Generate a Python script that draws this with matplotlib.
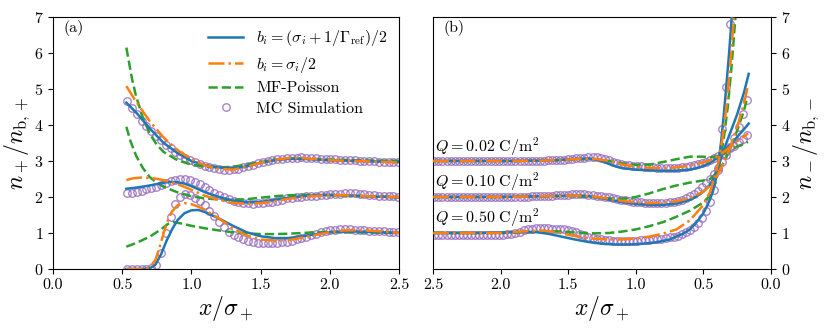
import numpy as np
import matplotlib
matplotlib.use("Agg")
import matplotlib.pyplot as plt

plt.rcParams['font.family'] = 'serif'
plt.rcParams['font.serif'] = ['cmr10', 'DejaVu Serif']
plt.rcParams['mathtext.fontset'] = 'cm'
plt.rcParams['axes.unicode_minus'] = False
plt.rcParams['axes.formatter.use_mathtext'] = True

# ---------------- Panel (a): n+/nb,+ ----------------
# Q = 0.02 (top, offset 3)
a_top_blue_x = [0.53, 0.6, 0.7, 0.8, 0.9, 1.0, 1.1, 1.2, 1.3, 1.4, 1.5, 1.6, 1.7, 1.8, 1.9, 2.0, 2.2, 2.4, 2.5]
a_top_blue_y = [4.62, 4.35, 3.9, 3.5, 3.22, 3.0, 2.88, 2.82, 2.8, 2.85, 2.95, 3.02, 3.06, 3.06, 3.04, 3.02, 3.0, 2.98, 2.97]
a_top_orange_x = [0.53, 0.6, 0.7, 0.8, 0.9, 1.0, 1.1, 1.2, 1.3, 1.4, 1.5, 1.6, 1.7, 1.8, 1.9, 2.0, 2.2, 2.5]
a_top_orange_y = [5.08, 4.65, 4.1, 3.65, 3.3, 3.05, 2.88, 2.78, 2.76, 2.84, 2.95, 3.03, 3.08, 3.08, 3.05, 3.02, 3.0, 2.96]
a_top_green_x = [0.53, 0.57, 0.6, 0.65, 0.7, 0.75, 0.8, 0.9, 1.0, 1.1, 1.2, 1.3, 1.4, 1.5, 1.6, 1.7, 1.8, 2.0, 2.2, 2.5]
a_top_green_y = [6.15, 5.3, 4.8, 4.2, 3.75, 3.45, 3.25, 3.02, 2.9, 2.84, 2.82, 2.84, 2.9, 2.97, 3.04, 3.07, 3.07, 3.04, 3.02, 3.0]

# Q = 0.10 (middle, offset 2)
a_mid_blue_x = [0.53, 0.6, 0.7, 0.8, 0.85, 0.9, 0.95, 1.0, 1.1, 1.2, 1.3, 1.4, 1.5, 1.6, 1.7, 1.8, 1.9, 2.0, 2.1, 2.2, 2.35, 2.5]
a_mid_blue_y = [2.23, 2.26, 2.32, 2.4, 2.42, 2.41, 2.37, 2.3, 2.13, 2.0, 1.9, 1.85, 1.86, 1.92, 1.98, 2.02, 2.05, 2.06, 2.05, 2.03, 2.01, 1.99]
a_mid_orange_x = [0.53, 0.58, 0.64, 0.7, 0.76, 0.82, 0.88, 0.95, 1.0, 1.1, 1.2, 1.3, 1.4, 1.5, 1.6, 1.7, 1.8, 1.9, 2.0, 2.1, 2.2, 2.35, 2.5]
a_mid_orange_y = [2.47, 2.52, 2.54, 2.53, 2.5, 2.45, 2.38, 2.28, 2.2, 2.03, 1.92, 1.84, 1.81, 1.83, 1.88, 1.95, 2.0, 2.03, 2.05, 2.05, 2.03, 2.01, 2.0]
a_mid_green_x = [0.53, 0.56, 0.6, 0.65, 0.7, 0.75, 0.8, 0.9, 1.0, 1.1, 1.2, 1.3, 1.4, 1.5, 1.6, 1.7, 1.8, 2.0, 2.2, 2.5]
a_mid_green_y = [3.95, 3.55, 3.15, 2.8, 2.55, 2.4, 2.28, 2.13, 2.02, 1.96, 1.93, 1.92, 1.94, 1.98, 2.02, 2.05, 2.06, 2.05, 2.03, 2.0]

# Q = 0.50 (bottom, offset 1)
a_bot_blue_x = [0.53, 0.6, 0.65, 0.7, 0.74, 0.78, 0.82, 0.86, 0.9, 0.95, 1.0, 1.05, 1.1, 1.2, 1.3, 1.4, 1.5, 1.6, 1.7, 1.8, 1.9, 2.0, 2.1, 2.2, 2.35, 2.5]
a_bot_blue_y = [0.0, 0.0, 0.0, 0.02, 0.12, 0.4, 0.78, 1.1, 1.36, 1.55, 1.63, 1.64, 1.58, 1.4, 1.2, 1.02, 0.91, 0.86, 0.86, 0.91, 0.97, 1.02, 1.04, 1.04, 1.02, 1.01]
a_bot_orange_x = [0.53, 0.6, 0.66, 0.7, 0.74, 0.77, 0.8, 0.83, 0.86, 0.9, 0.95, 1.0, 1.05, 1.1, 1.2, 1.3, 1.4, 1.5, 1.6, 1.7, 1.8, 1.9, 2.0, 2.1, 2.2, 2.35, 2.5]
a_bot_orange_y = [0.0, 0.0, 0.0, 0.05, 0.25, 0.6, 1.0, 1.35, 1.6, 1.77, 1.83, 1.8, 1.73, 1.64, 1.4, 1.13, 0.93, 0.82, 0.79, 0.8, 0.87, 0.95, 1.02, 1.07, 1.08, 1.05, 1.01]
a_bot_green_x = [0.53, 0.6, 0.7, 0.78, 0.83, 0.87, 0.92, 1.0, 1.1, 1.2, 1.3, 1.4, 1.5, 1.6, 1.7, 1.8, 1.9, 2.0, 2.2, 2.5]
a_bot_green_y = [0.62, 0.72, 0.9, 1.1, 1.25, 1.3, 1.27, 1.2, 1.13, 1.07, 1.02, 0.99, 0.97, 0.97, 0.98, 1.0, 1.02, 1.03, 1.02, 1.0]

# MC simulation (panel a): x grid start/step
a_mc_x0, a_mc_dx = 0.535, 0.035
a_mc_top = [4.68, 4.48, 4.30, 4.12, 3.97, 3.83, 3.70, 3.57, 3.45, 3.35,
            3.25, 3.17, 3.09, 3.02, 2.96, 2.91, 2.87, 2.83, 2.80, 2.78,
            2.76, 2.76, 2.77, 2.79, 2.82, 2.86, 2.90, 2.94, 2.98, 3.01,
            3.03, 3.05, 3.06, 3.07, 3.08, 3.09, 3.10, 3.09, 3.08, 3.07,
            3.06, 3.06, 3.05, 3.05, 3.04, 3.04, 3.03, 3.02, 3.01, 3.00,
            2.99, 2.99, 2.98, 2.98, 2.97, 2.97, 2.97]
a_mc_mid = [2.10, 2.12, 2.15, 2.18, 2.21, 2.25, 2.29, 2.34, 2.39, 2.44,
            2.48, 2.50, 2.50, 2.47, 2.42, 2.35, 2.28, 2.20, 2.12, 2.05,
            1.99, 1.94, 1.90, 1.86, 1.84, 1.82, 1.81, 1.82, 1.83, 1.85,
            1.87, 1.90, 1.93, 1.96, 1.98, 2.00, 2.01, 2.02, 2.03, 2.04,
            2.05, 2.06, 2.07, 2.08, 2.09, 2.10, 2.10, 2.10, 2.09, 2.07,
            2.06, 2.05, 2.04, 2.03, 2.02, 2.02, 2.01]
a_mc_bot = [0.00, 0.00, 0.00, 0.00, 0.01, 0.03, 0.12, 0.45, 1.00, 1.45,
            1.80, 2.00, 2.07, 2.05, 1.97, 1.88, 1.77, 1.62, 1.46, 1.30,
            1.16, 1.04, 0.95, 0.88, 0.82, 0.78, 0.75, 0.73, 0.72, 0.72,
            0.72, 0.73, 0.74, 0.76, 0.79, 0.82, 0.86, 0.90, 0.94, 0.98,
            1.02, 1.05, 1.07, 1.09, 1.10, 1.11, 1.10, 1.09, 1.08, 1.07,
            1.06, 1.06, 1.05, 1.05, 1.04, 1.04, 1.03]

# ---------------- Panel (b): n-/nb,- ----------------
b_top_blue_x = [2.5, 2.2, 1.9, 1.7, 1.55, 1.45, 1.35, 1.3, 1.25, 1.2, 1.15, 1.1, 1.0, 0.9, 0.8, 0.7, 0.6, 0.55, 0.5, 0.45, 0.4, 0.35, 0.3, 0.25, 0.2, 0.165]
b_top_blue_y = [3.0, 3.0, 3.0, 3.01, 3.03, 3.06, 3.07, 3.05, 3.0, 2.92, 2.85, 2.8, 2.76, 2.74, 2.73, 2.73, 2.76, 2.8, 2.86, 2.95, 3.08, 3.25, 3.45, 3.67, 3.88, 4.04]
b_top_orange_x = [2.5, 2.2, 1.9, 1.7, 1.5, 1.4, 1.3, 1.2, 1.1, 1.0, 0.9, 0.8, 0.7, 0.6, 0.5, 0.45, 0.4, 0.35, 0.3, 0.25, 0.2, 0.17]
b_top_orange_y = [3.0, 3.0, 3.0, 3.01, 3.04, 3.06, 3.06, 3.0, 2.9, 2.84, 2.81, 2.8, 2.82, 2.87, 2.96, 3.02, 3.12, 3.25, 3.4, 3.55, 3.68, 3.77]
b_top_green_x = [2.5, 2.2, 1.9, 1.7, 1.5, 1.4, 1.3, 1.2, 1.1, 1.0, 0.9, 0.8, 0.7, 0.6, 0.5, 0.45, 0.4, 0.35, 0.3, 0.25, 0.2, 0.17]
b_top_green_y = [3.0, 3.0, 3.0, 3.01, 3.03, 3.05, 3.05, 3.0, 2.93, 2.89, 2.9, 2.97, 3.05, 3.12, 3.12, 3.1, 3.13, 3.2, 3.3, 3.4, 3.48, 3.53]

b_mid_blue_x = [2.5, 2.0, 1.7, 1.5, 1.4, 1.3, 1.2, 1.1, 1.0, 0.9, 0.8, 0.7, 0.6, 0.55, 0.5, 0.45, 0.42, 0.39, 0.36, 0.33, 0.3, 0.25, 0.2, 0.165]
b_mid_blue_y = [2.0, 2.0, 2.02, 2.04, 2.04, 2.0, 1.93, 1.86, 1.81, 1.78, 1.78, 1.82, 1.92, 2.02, 2.15, 2.35, 2.55, 2.85, 3.2, 3.5, 3.8, 4.3, 4.9, 5.42]
b_mid_orange_x = [2.5, 2.0, 1.7, 1.5, 1.4, 1.3, 1.2, 1.1, 1.0, 0.9, 0.8, 0.7, 0.6, 0.5, 0.45, 0.4, 0.35, 0.3, 0.25, 0.2, 0.17]
b_mid_orange_y = [2.0, 2.0, 2.02, 2.04, 2.04, 2.01, 1.95, 1.89, 1.85, 1.83, 1.84, 1.88, 1.97, 2.15, 2.32, 2.58, 2.95, 3.4, 3.95, 4.6, 5.1]
b_mid_green_x = [2.5, 2.0, 1.7, 1.5, 1.3, 1.2, 1.1, 1.0, 0.9, 0.8, 0.7, 0.6, 0.5, 0.45, 0.4, 0.35, 0.3, 0.25, 0.2, 0.18]
b_mid_green_y = [2.0, 2.0, 2.02, 2.03, 2.0, 1.96, 1.95, 2.0, 2.1, 2.22, 2.32, 2.4, 2.46, 2.5, 2.68, 2.95, 3.35, 3.85, 4.4, 4.7]

b_bot_blue_x = [2.5, 2.2, 2.0, 1.85, 1.75, 1.65, 1.55, 1.45, 1.35, 1.25, 1.15, 1.05, 0.95, 0.85, 0.75, 0.65, 0.6, 0.55, 0.5, 0.46, 0.43, 0.41, 0.39, 0.37, 0.35, 0.33, 0.31, 0.29]
b_bot_blue_y = [1.0, 1.0, 1.01, 1.03, 1.03, 0.98, 0.9, 0.82, 0.75, 0.7, 0.68, 0.68, 0.7, 0.74, 0.82, 0.98, 1.1, 1.3, 1.55, 1.85, 2.15, 2.45, 2.9, 3.5, 4.25, 5.1, 6.0, 7.0]
b_bot_orange_x = [2.5, 2.0, 1.8, 1.7, 1.6, 1.5, 1.4, 1.3, 1.2, 1.1, 1.0, 0.9, 0.8, 0.7, 0.6, 0.5, 0.45, 0.42, 0.39, 0.36, 0.33, 0.3, 0.275]
b_bot_orange_y = [1.0, 1.0, 1.05, 1.07, 1.03, 0.95, 0.88, 0.84, 0.82, 0.82, 0.85, 0.9, 0.98, 1.1, 1.35, 1.78, 2.15, 2.5, 2.95, 3.6, 4.5, 5.7, 7.0]
b_bot_green_x = [2.5, 2.0, 1.7, 1.6, 1.5, 1.4, 1.3, 1.2, 1.1, 1.0, 0.9, 0.8, 0.7, 0.6, 0.5, 0.45, 0.41, 0.38, 0.35, 0.32, 0.29, 0.263]
b_bot_green_y = [1.0, 1.0, 1.03, 1.05, 1.03, 1.0, 0.99, 1.0, 1.04, 1.1, 1.19, 1.3, 1.45, 1.62, 1.85, 2.05, 2.4, 2.95, 3.6, 4.5, 5.7, 7.0]

# MC simulation (panel b)
b_mc_dx = 0.03
b_mc_top_x0 = 0.18
b_mc_top = [3.72, 3.62, 3.52, 3.43, 3.35, 3.27, 3.20, 3.13, 3.07, 3.02,
            2.98, 2.94, 2.91, 2.88, 2.86, 2.84, 2.82, 2.81, 2.80, 2.80,
            2.80, 2.80, 2.81, 2.82, 2.83, 2.84, 2.85, 2.86, 2.87, 2.88,
            2.90, 2.92, 2.95, 2.98, 3.02, 3.06, 3.09, 3.10, 3.11, 3.10,
            3.09, 3.08, 3.07, 3.06, 3.05, 3.04, 3.03, 3.03, 3.02, 3.02,
            3.01, 3.01, 3.00, 3.00, 3.00, 2.99, 2.99, 2.99, 2.99, 2.99,
            2.99, 2.99, 2.99, 2.99, 2.99, 2.99, 2.99, 2.99, 2.99, 2.99,
            3.00, 3.00, 3.00, 3.00, 3.00, 3.00, 3.00, 3.00]
b_mc_mid_x0 = 0.18
b_mc_mid = [4.70, 4.30, 3.95, 3.65, 3.40, 3.17, 2.98, 2.80, 2.64, 2.50,
            2.38, 2.27, 2.17, 2.09, 2.02, 1.96, 1.92, 1.89, 1.87, 1.85,
            1.84, 1.83, 1.83, 1.83, 1.83, 1.84, 1.85, 1.86, 1.87, 1.89,
            1.91, 1.93, 1.95, 1.97, 1.99, 2.01, 2.03, 2.04, 2.05, 2.06,
            2.07, 2.07, 2.07, 2.07, 2.06, 2.06, 2.05, 2.05, 2.04, 2.04,
            2.03, 2.03, 2.02, 2.02, 2.01, 2.01, 2.00, 2.00, 2.00, 2.00,
            1.99, 1.99, 1.99, 1.99, 1.99, 1.99, 1.99, 1.99, 1.99, 1.99,
            1.99, 2.00, 2.00, 2.00, 2.00, 2.00, 2.00, 2.00]
b_mc_bot_x0 = 0.30
b_mc_bot = [6.80, 5.05, 3.90, 2.75, 2.20, 1.85, 1.60, 1.42, 1.28, 1.17,
            1.08, 1.02, 0.97, 0.93, 0.90, 0.88, 0.86, 0.84, 0.83, 0.82,
            0.81, 0.80, 0.80, 0.79, 0.79, 0.79, 0.79, 0.79, 0.79, 0.79,
            0.80, 0.81, 0.82, 0.84, 0.87, 0.90, 0.94, 0.98, 1.02, 1.06,
            1.09, 1.10, 1.11, 1.12, 1.12, 1.13, 1.13, 1.13, 1.13, 1.12,
            1.10, 1.07, 1.04, 1.01, 0.98, 0.96, 0.95, 0.95, 0.95, 0.95,
            0.95, 0.95, 0.95, 0.94, 0.94, 0.94, 0.94, 0.94, 0.94, 0.94,
            0.94, 0.94, 0.95, 0.95]

q_labels = [r'$Q=0.02\ \mathrm{C/m^2}$', r'$Q=0.10\ \mathrm{C/m^2}$', r'$Q=0.50\ \mathrm{C/m^2}$']
q_label_y = [3.08, 2.1, 1.12]

legend_labels = [r'$b_i=(\sigma_i+1/\Gamma_{\mathrm{ref}})/2$', r'$b_i=\sigma_i/2$',
                 'MF-Poisson', 'MC Simulation']

C_BLUE, C_ORANGE, C_GREEN, C_PURPLE = '#1f77b4', '#ff7f0e', '#2ca02c', '#9467bd'
LW = 1.8

fig = plt.figure(figsize=(8.3, 3.32), dpi=100)
W, H = 830.0, 332.0
axa = fig.add_axes([53 / W, (H - 269) / H, (399 - 53) / W, (269 - 17) / H])
axb = fig.add_axes([433 / W, (H - 269) / H, (771 - 433) / W, (269 - 17) / H])


def mc_x(x0, dx, vals):
    return x0 + dx * np.arange(len(vals))


def draw_mc(ax, x, y, label=None):
    ax.plot(x, y, linestyle='none', marker='o', markersize=5.4, markerfacecolor='none',
            markeredgecolor=C_PURPLE, markeredgewidth=1.0, alpha=0.8, zorder=1, label=label)


# Panel (a)
first = True
for bx, by, ox, oy, gx, gy, mc in [
        (a_top_blue_x, a_top_blue_y, a_top_orange_x, a_top_orange_y, a_top_green_x, a_top_green_y, a_mc_top),
        (a_mid_blue_x, a_mid_blue_y, a_mid_orange_x, a_mid_orange_y, a_mid_green_x, a_mid_green_y, a_mc_mid),
        (a_bot_blue_x, a_bot_blue_y, a_bot_orange_x, a_bot_orange_y, a_bot_green_x, a_bot_green_y, a_mc_bot)]:
    draw_mc(axa, mc_x(a_mc_x0, a_mc_dx, mc), mc, legend_labels[3] if first else None)
    axa.plot(bx, by, color=C_BLUE, lw=LW, zorder=3, label=legend_labels[0] if first else None)
    axa.plot(ox, oy, color=C_ORANGE, lw=LW, ls='-.', zorder=4, label=legend_labels[1] if first else None)
    axa.plot(gx, gy, color=C_GREEN, lw=LW, ls='--', zorder=2, label=legend_labels[2] if first else None)
    first = False

# Panel (b)
for bx, by, ox, oy, gx, gy, (x0, mc) in [
        (b_top_blue_x, b_top_blue_y, b_top_orange_x, b_top_orange_y, b_top_green_x, b_top_green_y, (b_mc_top_x0, b_mc_top)),
        (b_mid_blue_x, b_mid_blue_y, b_mid_orange_x, b_mid_orange_y, b_mid_green_x, b_mid_green_y, (b_mc_mid_x0, b_mc_mid)),
        (b_bot_blue_x, b_bot_blue_y, b_bot_orange_x, b_bot_orange_y, b_bot_green_x, b_bot_green_y, (b_mc_bot_x0, b_mc_bot))]:
    draw_mc(axb, mc_x(x0, b_mc_dx, mc), mc)
    axb.plot(bx, by, color=C_BLUE, lw=LW, zorder=3)
    axb.plot(ox, oy, color=C_ORANGE, lw=LW, ls='-.', zorder=4)
    axb.plot(gx, gy, color=C_GREEN, lw=LW, ls='--', zorder=2)

for lab, yy in zip(q_labels, q_label_y):
    axb.text(2.485, yy, lab, fontsize=11.5, ha='left', va='bottom')

TS = 11.5
for ax in (axa, axb):
    ax.set_ylim(0, 7)
    ax.set_yticks(range(0, 8))
    ax.tick_params(labelsize=TS)
    ax.set_xlabel(r'$x/\sigma_+$', fontsize=17, labelpad=1)

axa.set_xlim(0, 2.5)
axa.set_xticks([0.0, 0.5, 1.0, 1.5, 2.0, 2.5])
axa.set_xticklabels(['0.0', '0.5', '1.0', '1.5', '2.0', '2.5'])
axb.set_xlim(2.5, 0)
axb.set_xticks([2.5, 2.0, 1.5, 1.0, 0.5, 0.0])
axb.set_xticklabels(['2.5', '2.0', '1.5', '1.0', '0.5', '0.0'])

axa.set_ylabel(r'$n_+/n_{\mathrm{b},+}$', fontsize=17, labelpad=1)
axb.yaxis.tick_right()
axb.yaxis.set_label_position('right')
axb.set_ylabel(r'$n_-/n_{\mathrm{b},-}$', fontsize=17, labelpad=1)

axa.text(0.03, 0.958, '(a)', transform=axa.transAxes, fontsize=TS, ha='left', va='center')
axb.text(0.03, 0.958, '(b)', transform=axb.transAxes, fontsize=TS, ha='left', va='center')

h, l = axa.get_legend_handles_labels()
order = [l.index(s) for s in legend_labels]
axa.legend([h[i] for i in order], [l[i] for i in order], loc='upper right', frameon=False,
           fontsize=TS, handlelength=2.2, borderaxespad=0.3, labelspacing=0.4)

fig.savefig('out.png', dpi=100)
